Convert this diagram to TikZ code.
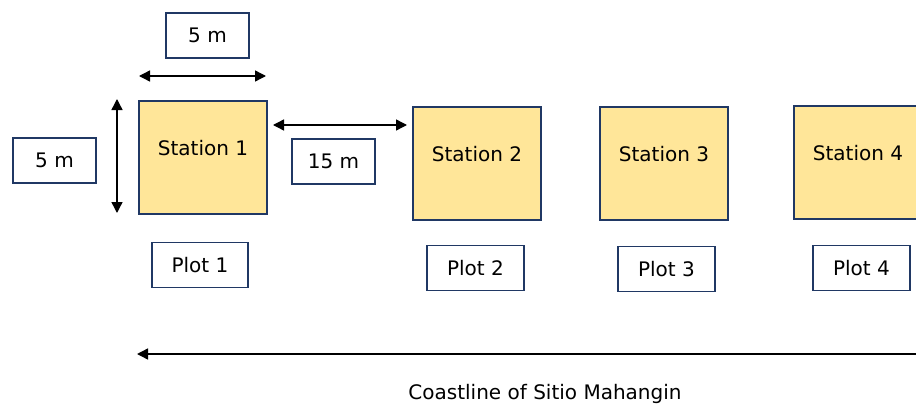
\documentclass[tikz,border=0pt]{standalone}
\usepackage{fontspec}
\setmainfont{DejaVu Sans}
\usetikzlibrary{arrows.meta}
\definecolor{navy}{HTML}{203864}
\definecolor{sand}{HTML}{FFE699}

\begin{document}
\begin{tikzpicture}[x=1pt,y=-1pt,font=\fontsize{20}{24}\selectfont,
  station/.style={draw=navy,fill=sand,line width=1.6pt,minimum width=128pt,minimum height=113pt,text depth=20pt,inner sep=0pt},
  tag/.style={draw=navy,fill=white,line width=1.6pt,minimum height=45pt,inner sep=0pt},
  dim/.style={{Triangle[width=11pt,length=11pt]}-{Triangle[width=11pt,length=11pt]},line width=1.4pt}]
\useasboundingbox (0,0) rectangle (916,407);
\node[station] (s1) at (203,157.5) {Station 1};
\node[station] (s2) at (477,163.5) {Station 2};
\node[station] (s3) at (664,163.5) {Station 3};
\node[station] (s4) at (858,162.5) {Station 4};
\node[tag,minimum width=83pt] (wtop) at (207.5,35.5) {5 m};
\node[tag,minimum width=83pt] (wleft) at (54.5,160.5) {5 m};
\node[tag,minimum width=83pt] (gap) at (333.5,161.5) {15 m};
\node[tag,minimum width=96pt] (p1) at (200,265) {Plot 1};
\node[tag,minimum width=97pt] (p2) at (475.5,268) {Plot 2};
\node[tag,minimum width=97pt] (p3) at (666.5,269) {Plot 3};
\node[tag,minimum width=97pt] (p4) at (861.5,268) {Plot 4};
\node (coast) at (545,394) {Coastline of Sitio Mahangin};
\coordinate (a1) at (139,76);
\coordinate (a2) at (266,76);
\coordinate (b1) at (117,99);
\coordinate (b2) at (117,213);
\coordinate (c1) at (273,125);
\coordinate (c2) at (407,125);
\coordinate (d1) at (137,354);
\coordinate (d2) at (930,354);
\draw[dim] (a1) -- (a2);
\draw[dim] (b1) -- (b2);
\draw[dim] (c1) -- (c2);
\draw[dim] (d1) -- (d2);
\end{tikzpicture}
\end{document}
